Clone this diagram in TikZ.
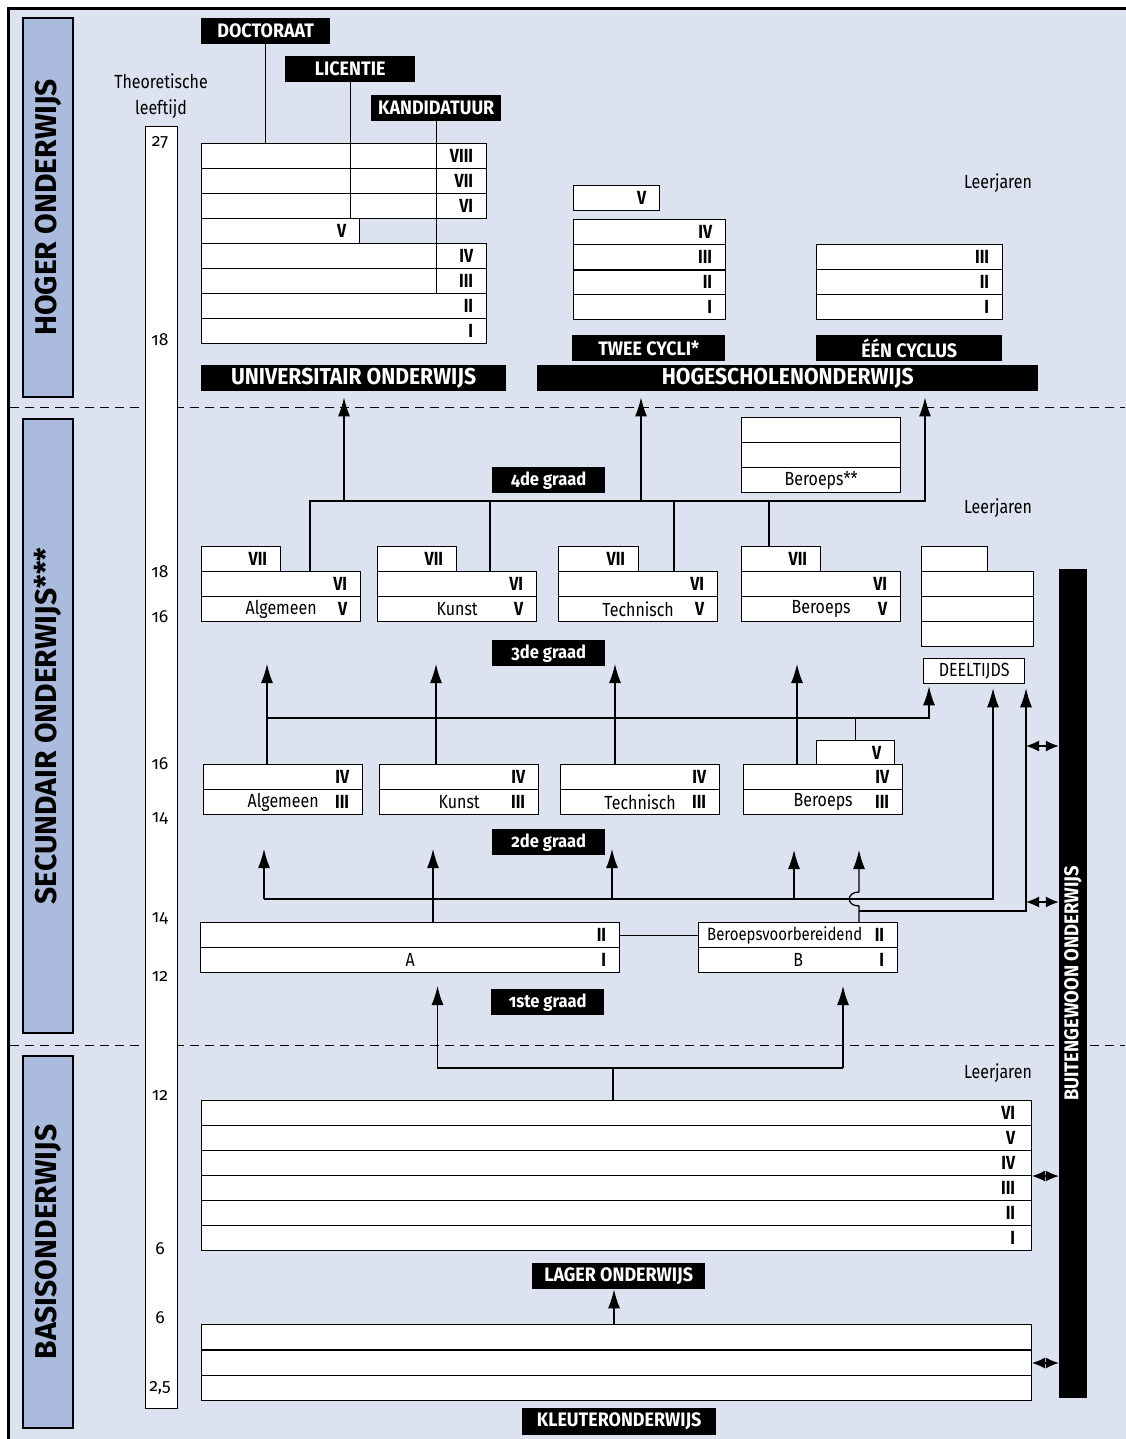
\documentclass[tikz,border=0pt]{standalone}
\usepackage{fontspec}
\setmainfont{Fira Sans}[Numbers=OldStyle]
\newfontfamily\narrowfont{Fira Sans}[FakeStretch=0.84,Numbers=OldStyle]
\newfontfamily\labelfont{Fira Sans}[FakeStretch=0.92,Numbers=OldStyle]
\usetikzlibrary{arrows.meta,calc}
\definecolor{achtergrond}{HTML}{DCE2F0}
\definecolor{catblauw}{HTML}{AABBDD}
\newcommand\txtf{\narrowfont\fontsize{19}{21}\selectfont}
\newcommand\rnumf{\narrowfont\bfseries\fontsize{19}{21}\selectfont}
\newcommand\labf{\labelfont\bfseries\fontsize{19.5}{21}\selectfont}
\newcommand\grootf{\labelfont\bfseries\fontsize{23}{25}\selectfont}
\newcommand\graadf{\labelfont\bfseries\fontsize{18}{20}\selectfont}
\newcommand\catf{\bfseries\fontsize{30}{32}\selectfont}
\newcommand\buitf{\labelfont\bfseries\fontsize{20}{22}\selectfont}
\newcommand\leeftf{\fontsize{17.5}{19}\selectfont}

\begin{document}
\begin{tikzpicture}[x=1pt,y=-1pt,
  jaar/.style={draw=black,fill=white,line width=1.3pt,inner sep=0pt,anchor=north west,minimum height=25pt,font=\txtf},
  cijfer/.style={anchor=east,inner sep=0pt,xshift=-14pt,font=\rnumf},
  etiket/.style={fill=black,text=white,inner sep=0pt,anchor=north west,minimum height=26pt,font=\labf},
  graad/.style={etiket,minimum width=113pt,font=\graadf},
  cat/.style={draw=black,fill=catblauw,line width=2.5pt,inner sep=0pt,rotate=90,minimum height=50pt,font=\catf},
  tekst/.style={inner sep=0pt,font=\txtf},
  leeftijd/.style={inner sep=0pt,font=\leeftf},
  lijn/.style={line width=1.3pt},
  pijl/.style={line width=1.3pt,-{Latex[length=19pt,width=12pt]}},
  dubbel/.style={line width=1.3pt,{Latex[length=13pt,width=11pt]}-{Latex[length=13pt,width=11pt]}},
  scheiding/.style={line width=1pt,dash pattern=on 9pt off 6pt}]

\useasboundingbox (0,0) rectangle (1125,1439);
\fill[white] (0,0) rectangle (1125,1439);
\draw[line width=3.5pt,fill=achtergrond] (8.5,8.5) rectangle (1140,1460);

% scheidingslijnen tussen de niveaus
\draw[scheiding] (10,407) -- (1125,407);
\draw[scheiding] (10,1045) -- (1125,1045);

% niveaus links
\node[cat,minimum width=379pt] (hoger) at (48,207.5) {HOGER ONDERWIJS};
\node[cat,minimum width=614pt] (secundair) at (48,726) {SECUNDAIR ONDERWIJS***};
\node[cat,minimum width=372pt] (basis) at (48,1242) {BASISONDERWIJS};

% leeftijdsbalk
\node[tekst,align=center,font=\narrowfont\fontsize{19}{26}\selectfont] (theo) at (161,96) {Theoretische\\leeftijd};
\node[draw=black,fill=white,line width=1.3pt,inner sep=0pt,anchor=north west,minimum width=32pt,minimum height=1282pt] (balk) at (145,126) {};
\node[leeftijd] (l27) at (160,143) {27};
\node[leeftijd] (l18a) at (160,340) {18};
\node[leeftijd] (l18b) at (160,572) {18};
\node[leeftijd] (l16a) at (160,617) {16};
\node[leeftijd] (l16b) at (160,764) {16};
\node[leeftijd] (l14a) at (160,818) {14};
\node[leeftijd] (l14b) at (160,918) {14};
\node[leeftijd] (l12a) at (160,976) {12};
\node[leeftijd] (l12b) at (160,1095) {12};
\node[leeftijd] (l6a) at (160,1249) {6};
\node[leeftijd] (l6b) at (160,1318) {6};
\node[leeftijd] (l25) at (160,1388) {2,5};

% universitair onderwijs
\node[etiket,minimum width=129pt] (doc) at (201,18) {DOCTORAAT};
\node[etiket,minimum width=130pt] (lic) at (285,56) {LICENTIE};
\node[etiket,minimum width=130pt] (kand) at (371,95) {KANDIDATUUR};
\node[jaar,minimum width=285pt,label={[cijfer]east:VIII}] (u8) at (201,143) {};
\node[jaar,minimum width=285pt,label={[cijfer]east:VII}] (u7) at (201,168) {};
\node[jaar,minimum width=285pt,label={[cijfer]east:VI}] (u6) at (201,193) {};
\node[jaar,minimum width=158pt,label={[cijfer]east:V}] (u5) at (201,218) {};
\node[jaar,minimum width=285pt,label={[cijfer]east:IV}] (u4) at (201,243) {};
\node[jaar,minimum width=285pt,label={[cijfer]east:III}] (u3) at (201,268) {};
\node[jaar,minimum width=285pt,label={[cijfer]east:II}] (u2) at (201,293) {};
\node[jaar,minimum width=285pt,label={[cijfer]east:I}] (u1) at (201,318) {};
\node[etiket,minimum width=305pt,font=\grootf] (univ) at (201,365) {UNIVERSITAIR ONDERWIJS};
\draw[lijn] (doc.south) -- (doc.south |- u8.north);
\draw[lijn] (lic.south) -- (lic.south |- u5.north);
\draw[lijn] (kand.south) -- (kand.south |- u2.north);

% hogescholenonderwijs
\node[jaar,minimum width=86pt,label={[cijfer]east:V}] (h5) at (573,185) {};
\node[jaar,minimum width=152pt,label={[cijfer]east:IV}] (h4) at (573,219) {};
\node[jaar,minimum width=152pt,label={[cijfer]east:III}] (h3) at (573,244) {};
\node[jaar,minimum width=152pt,label={[cijfer]east:II}] (h2) at (573,269) {};
\node[jaar,minimum width=152pt,label={[cijfer]east:I}] (h1) at (573,294) {};
\node[jaar,minimum width=186pt,label={[cijfer]east:III}] (e3) at (816,244) {};
\node[jaar,minimum width=186pt,label={[cijfer]east:II}] (e2) at (816,269) {};
\node[jaar,minimum width=186pt,label={[cijfer]east:I}] (e1) at (816,294) {};
\draw[line width=2.2pt] (h3.south west) -- (h3.south east);
\node[etiket,minimum width=153pt] (twee) at (572,335) {TWEE CYCLI*};
\node[etiket,minimum width=186pt] (een) at (816,335) {ÉÉN CYCLUS};
\node[etiket,minimum width=501pt,font=\grootf] (hog) at (537,365) {HOGESCHOLENONDERWIJS};
\node[tekst] (lj1) at (998,183) {Leerjaren};

% 4de graad
\node[graad] (g4) at (492,467) {4de graad};
\node[jaar,minimum width=159pt] (bb3) at (741,417) {};
\node[jaar,minimum width=159pt] (bb2) at (741,442) {};
\node[jaar,minimum width=159pt] (bb1) at (741,467) {Beroeps**};
\node[tekst] (lj2) at (998,508) {Leerjaren};

% 3de graad
\node[jaar,minimum width=79pt,label={[cijfer]east:VII}] (alg7) at (201,546) {};
\node[jaar,minimum width=159pt,label={[cijfer]east:VI}] (alg6) at (201,571) {};
\node[jaar,minimum width=159pt,label={[cijfer]east:V}] (alg5) at (201,596) {Algemeen};
\node[jaar,minimum width=79pt,label={[cijfer]east:VII}] (kun7) at (377,546) {};
\node[jaar,minimum width=159pt,label={[cijfer]east:VI}] (kun6) at (377,571) {};
\node[jaar,minimum width=159pt,label={[cijfer]east:V}] (kun5) at (377,596) {Kunst};
\node[jaar,minimum width=80pt,label={[cijfer]east:VII}] (tec7) at (558,546) {};
\node[jaar,minimum width=159pt,label={[cijfer]east:VI}] (tec6) at (558,571) {};
\node[jaar,minimum width=159pt,label={[cijfer]east:V}] (tec5) at (558,596) {Technisch};
\node[jaar,minimum width=79pt,label={[cijfer]east:VII}] (ber7) at (741,546) {};
\node[jaar,minimum width=159pt,label={[cijfer]east:VI}] (ber6) at (741,571) {};
\node[jaar,minimum width=159pt,label={[cijfer]east:V}] (ber5) at (741,596) {Beroeps};
\node[jaar,minimum width=66pt] (dt4) at (921,546) {};
\node[jaar,minimum width=112pt] (dt3) at (921,571) {};
\node[jaar,minimum width=112pt] (dt2) at (921,596) {};
\node[jaar,minimum width=112pt] (dt1) at (921,621) {};
\node[jaar,minimum width=101pt] (deel) at (923,658) {DEELTIJDS};
\node[graad] (g3) at (492,640) {3de graad};

% 2de graad
\node[jaar,minimum width=159pt,label={[cijfer]east:IV}] (alg4) at (203,764) {};
\node[jaar,minimum width=159pt,label={[cijfer]east:III}] (alg3) at (203,789) {Algemeen};
\node[jaar,minimum width=159pt,label={[cijfer]east:IV}] (kun4) at (379,764) {};
\node[jaar,minimum width=159pt,label={[cijfer]east:III}] (kun3) at (379,789) {Kunst};
\node[jaar,minimum width=159pt,label={[cijfer]east:IV}] (tec4) at (560,764) {};
\node[jaar,minimum width=159pt,label={[cijfer]east:III}] (tec3) at (560,789) {Technisch};
\node[jaar,minimum width=78pt,minimum height=24pt,label={[cijfer]east:V}] (berv) at (816,740) {};
\node[jaar,minimum width=159pt,label={[cijfer]east:IV}] (ber4) at (743,764) {};
\node[jaar,minimum width=159pt,label={[cijfer]east:III}] (ber3) at (743,789) {Beroeps};
\node[graad] (g2) at (492,829) {2de graad};

% 1ste graad
\node[jaar,minimum width=419pt,label={[cijfer]east:II}] (a2) at (200,922) {};
\node[jaar,minimum width=419pt,label={[cijfer]east:I}] (a1) at (200,947) {A};
\node[jaar,minimum width=199pt,label={[cijfer]east:II},label={[anchor=west,inner sep=0pt,xshift=9pt,font=\narrowfont\fontsize{17.8}{20}\selectfont]west:Beroepsvoorbereidend}] (b2) at (698,922) {};
\node[jaar,minimum width=199pt,label={[cijfer]east:I}] (b1) at (698,947) {B};
\node[graad] (g1) at (491,989) {1ste graad};
\draw[lijn] (a2.east) -- (b2.west);

% lager en kleuteronderwijs
\node[tekst] (lj3) at (998,1073) {Leerjaren};
\node[jaar,minimum width=830pt,label={[cijfer,xshift=-3pt]east:VI}] (r6) at (201,1100) {};
\node[jaar,minimum width=830pt,label={[cijfer,xshift=-3pt]east:V}] (r5) at (201,1125) {};
\node[jaar,minimum width=830pt,label={[cijfer,xshift=-3pt]east:IV}] (r4) at (201,1150) {};
\node[jaar,minimum width=830pt,label={[cijfer,xshift=-3pt]east:III}] (r3) at (201,1175) {};
\node[jaar,minimum width=830pt,label={[cijfer,xshift=-3pt]east:II}] (r2) at (201,1200) {};
\node[jaar,minimum width=830pt,label={[cijfer,xshift=-3pt]east:I}] (r1) at (201,1225) {};
\node[etiket,minimum width=173pt] (lag) at (532,1263) {LAGER ONDERWIJS};
\node[jaar,minimum width=830pt] (k3) at (201,1324) {};
\node[jaar,minimum width=830pt] (k2) at (201,1349.5) {};
\node[jaar,minimum width=830pt] (k1) at (201,1375) {};
\node[etiket,minimum width=194pt,minimum height=27pt] (kle) at (522,1408) {KLEUTERONDERWIJS};

% buitengewoon onderwijs
\node[fill=black,text=white,inner sep=0pt,rotate=90,minimum width=829pt,minimum height=28pt,font=\buitf] (buit) at (1073,983.5) {BUITENGEWOON ONDERWIJS};

% pijlen naar het hoger onderwijs
\coordinate (g4l) at (310,501);
\coordinate (g4r) at (925,501);
\coordinate (g4u) at (344,501);
\coordinate (g4h) at (641,501);
\coordinate (g4k) at (490,501);
\coordinate (g4t) at (674,501);
\coordinate (g4b) at (769,501);
\draw[pijl,shorten >=6pt] (g4l |- alg6.north) -- (g4l) -- (g4r) -- (g4r |- hog.south);
\draw[pijl,shorten >=6pt] (g4u) -- (g4u |- univ.south);
\draw[pijl,shorten >=6pt] (g4h) -- (g4h |- hog.south);
\draw[lijn] (g4k) -- (g4k |- kun6.north);
\draw[lijn] (g4t) -- (g4t |- tec6.north);
\draw[lijn] (g4b) -- (g4b |- ber7.north);

% pijlen naar de 3de graad
\coordinate (g3l) at (267,718);
\coordinate (g3r) at (929,718);
\coordinate (g3a) at (267,664);
\coordinate (g3k) at (436,664);
\coordinate (g3t) at (615,664);
\coordinate (g3b) at (797,664);
\draw[pijl,shorten >=2pt] (g3l) -- (g3r) -- (g3r |- deel.south);
\draw[pijl] (g3a |- alg4.north) -- (g3a);
\draw[pijl] (g3k |- kun4.north) -- (g3k);
\draw[pijl] (g3t |- tec4.north) -- (g3t);
\draw[pijl] (g3b |- ber4.north) -- (g3b);
\draw[lijn] (berv.north) -- (berv.north |- g3l);

% pijlen naar de 2de graad
\coordinate (g2l) at (264,899);
\coordinate (g2r) at (993,899);
\coordinate (g2a) at (264,849);
\coordinate (g2k) at (433,849);
\coordinate (g2t) at (612,849);
\coordinate (g2b) at (794,850);
\coordinate (g2v) at (859,850);
\coordinate (g2j) at (859,911);
\coordinate (g2d) at (1026,911);
\coordinate (hop) at (859,899);
\draw[pijl] (g2l) -- (g2a);
\draw[pijl,shorten >=4pt] (g2l) -- (g2r) -- (g2r |- deel.south);
\draw[pijl] (g2t |- g2l) -- (g2t);
\draw[pijl] (g2b |- g2l) -- (g2b);
\draw[pijl] (g2k |- a2.north) -- (g2k);
\draw[pijl] (g2j |- b2.north) -- ($(hop)+(0,7)$) .. controls ($(hop)+(-13,7)$) and ($(hop)+(-13,-7)$) .. ($(hop)+(0,-7)$) -- (g2v);
\draw[pijl,shorten >=4pt] (g2j) -- (g2d) -- (g2d |- deel.south);

% pijlen naar de 1ste graad en het lager onderwijs
\coordinate (l1) at (437.5,1068);
\coordinate (l2) at (843,1068);
\coordinate (lm) at (613,1068);
\coordinate (p1) at (437.5,986);
\coordinate (p2) at (843,986);
\coordinate (km) at (614,1324);
\draw[pijl] (l2) -- (p2);
\draw[pijl] (l2) -- (l1) -- (p1);
\draw[lijn] (lm |- r6.north) -- (lm);
\draw[pijl] (km) -- (km |- lag.south);

% verbindingen met het buitengewoon onderwijs
\coordinate (d1) at (1026,746);
\coordinate (d2) at (1026,902);
\coordinate (d3) at (1032,1176);
\coordinate (d4) at (1032,1363);
\draw[dubbel] (d1) -- (d1 -| buit.north);
\draw[dubbel] (d2) -- (d2 -| buit.north);
\draw[dubbel] (d3) -- (d3 -| buit.north);
\draw[dubbel] (d4) -- (d4 -| buit.north);
\end{tikzpicture}
\end{document}
